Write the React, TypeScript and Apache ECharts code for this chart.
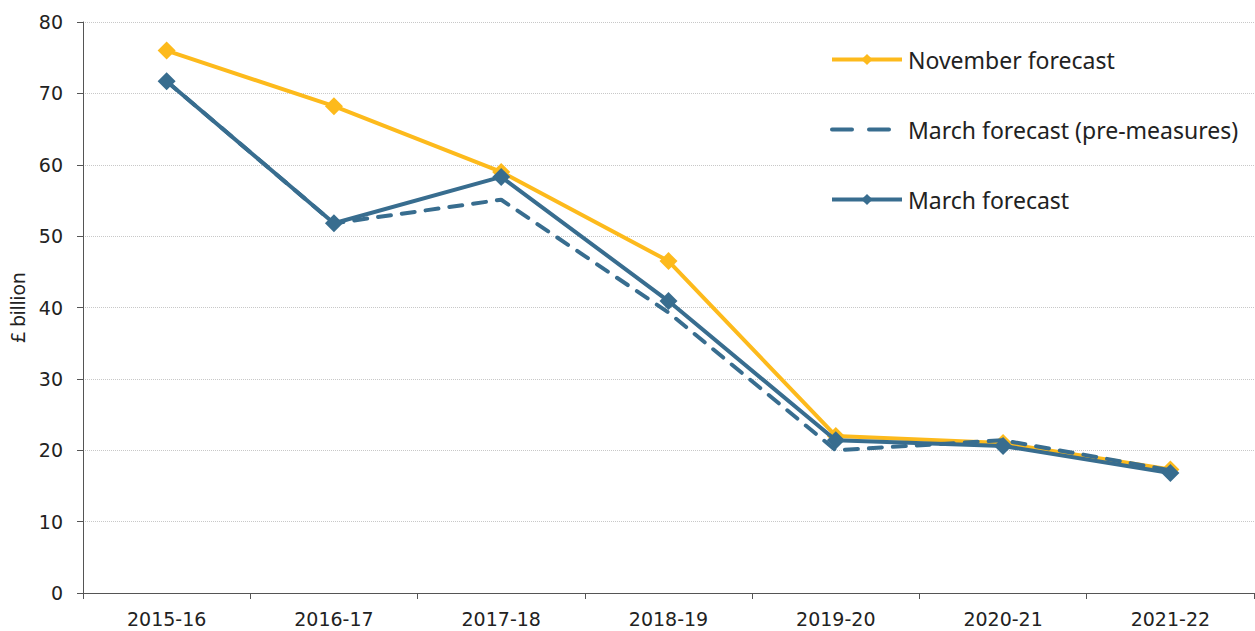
import React, { useEffect, useRef } from "react";
import * as echarts from "echarts";

const categories = ["2015-16", "2016-17", "2017-18", "2018-19", "2019-20", "2020-21", "2021-22"];
const novemberForecast = [76.0, 68.2, 59.0, 46.5, 22.0, 21.0, 17.3];
const marchPreMeasures = [71.7, 51.8, 55.1, 39.3, 20.0, 21.4, 17.2];
const marchForecast = [71.7, 51.8, 58.3, 40.9, 21.4, 20.6, 16.8];
const yTicks = { min: 0, max: 80, interval: 10 };

const YELLOW = "#FDBA1C";
const BLUE = "#386D8F";
const FONT = "Noto Sans";
const TICK_FONT = "DejaVu Sans";

export default function App() {
  const ref = useRef<HTMLDivElement>(null);
  useEffect(() => {
    document.body.style.margin = "0";
    const chart = echarts.init(ref.current!, null, { renderer: "svg" });
    chart.setOption({
      animation: false,
      backgroundColor: "#ffffff",
      textStyle: { fontFamily: FONT },
      grid: { left: 81, right: 1, top: 22, bottom: 38, containLabel: false },
      legend: {
        orient: "vertical",
        left: 830,
        top: 47,
        padding: 0,
        itemWidth: 70,
        itemHeight: 14,
        itemGap: 45,
        lineStyle: { width: 4 },
        textStyle: { fontSize: 23, color: "#222", fontFamily: FONT, lineHeight: 25, padding: [0, 0, 0, 1] },
        data: [
          { name: "November forecast" },
          { name: "March forecast (pre-measures)", itemStyle: { color: "rgba(0,0,0,0)", borderWidth: 0 }, lineStyle: { width: 4, type: [20, 17] } },
          { name: "March forecast" },
        ],
      },
      xAxis: {
        type: "category",
        data: categories,
        boundaryGap: true,
        axisLine: { lineStyle: { color: "#555", width: 1 } },
        axisTick: { show: true, length: 6, lineStyle: { color: "#555" }, alignWithLabel: false },
        axisLabel: { color: "#222", fontSize: 19, margin: 16, fontFamily: TICK_FONT },
      },
      yAxis: {
        type: "value",
        min: yTicks.min,
        max: yTicks.max,
        interval: yTicks.interval,
        name: "£ billion",
        nameLocation: "middle",
        nameGap: 56,
        nameTextStyle: { fontSize: 19, color: "#222", fontFamily: FONT },
        axisLine: { show: true, lineStyle: { color: "#555", width: 1 } },
        axisTick: { show: true, length: 6, lineStyle: { color: "#555" } },
        axisLabel: { color: "#222", fontSize: 19, margin: 20, fontFamily: TICK_FONT },
        splitLine: { show: true, lineStyle: { color: "#c8c8c8", type: "dotted", width: 1 } },
      },
      series: [
        {
          name: "November forecast",
          type: "line",
          data: novemberForecast,
          symbol: "diamond",
          symbolSize: 18,
          itemStyle: { color: YELLOW },
          lineStyle: { color: YELLOW, width: 4 },
          z: 2,
        },
        {
          name: "March forecast (pre-measures)",
          type: "line",
          data: marchPreMeasures,
          symbol: "none",
          itemStyle: { color: BLUE },
          lineStyle: { color: BLUE, width: 4, type: [13, 11], cap: "round" },
          z: 3,
        },
        {
          name: "March forecast",
          type: "line",
          data: marchForecast,
          symbol: "diamond",
          symbolSize: 18,
          itemStyle: { color: BLUE },
          lineStyle: { color: BLUE, width: 4 },
          z: 4,
        },
      ],
    });
    return () => chart.dispose();
  }, []);
  return <div ref={ref} style={{ width: 1255, height: 631 }} />;
}
